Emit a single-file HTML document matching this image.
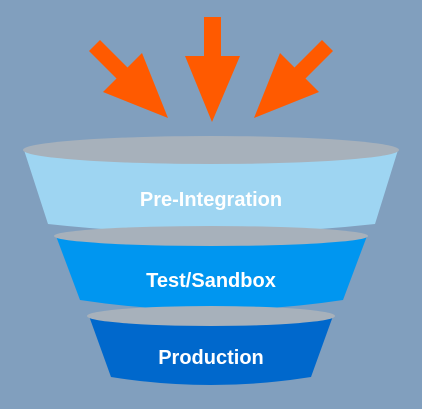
<!DOCTYPE html>
<html><head><style>
html,body{margin:0;padding:0;background:#819fbe;}
svg{display:block}
text{font-family:"Liberation Sans",sans-serif;fill:#fff;text-anchor:middle;font-size:20px;font-weight:bold}
</style></head><body>
<svg width="422" height="409" viewBox="0 0 422 409">
<rect width="422" height="409" fill="#819fbe"/>
<g fill="#ff5a00">
<polygon points="204,17 221,17 221,56 240,56 212,122 185,56 204,56"/>
<polygon points="89,51 116.5,78.5 103,92 168,118 142,53 127.5,67.5 100,40"/>
<polygon points="333,51 305.5,78.5 319,92 254,118 280,53 294.5,67.5 322,40"/>
</g>
<path d="M24,150 L48,224 Q211,242 375,224 L398,150 Z" fill="#9ed5f2"/>
<ellipse cx="211" cy="150" rx="188" ry="14" fill="#a7b1bb"/>
<text x="211" y="206">Pre-Integration</text>
<path d="M56,236 L80,300 Q211,320 343,300 L367,236 Z" fill="#0096f0"/>
<ellipse cx="211" cy="236" rx="157" ry="10" fill="#a7b1bb"/>
<text x="211" y="287">Test/Sandbox</text>
<path d="M89,316 L111,377 Q211,393 311,377 L333,316 Z" fill="#0068cc"/>
<ellipse cx="211" cy="316" rx="124" ry="10" fill="#a7b1bb"/>
<text x="211" y="364">Production</text>
</svg>
</body></html>
